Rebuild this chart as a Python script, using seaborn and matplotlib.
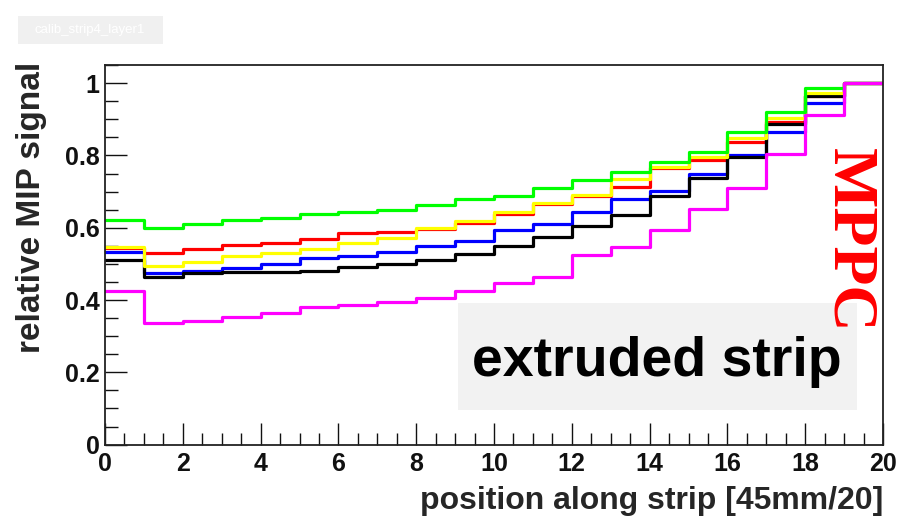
import numpy as np
import pandas as pd
import matplotlib
matplotlib.use("Agg")
import matplotlib.pyplot as plt
from matplotlib.patches import Rectangle
from matplotlib.ticker import MultipleLocator, FixedLocator
import seaborn as sns

# ---- data (relative MIP signal per bin, 20 bins of 45mm/20) ----
bin_edges = list(range(0, 21))
green = [0.621, 0.600, 0.610, 0.621, 0.628, 0.639, 0.644, 0.648, 0.662, 0.679,
         0.687, 0.709, 0.731, 0.755, 0.782, 0.811, 0.864, 0.921, 0.986, 1.0]
red = [0.545, 0.529, 0.540, 0.553, 0.558, 0.568, 0.586, 0.587, 0.597, 0.612,
       0.637, 0.665, 0.688, 0.714, 0.766, 0.787, 0.837, 0.894, 0.966, 1.0]
yellow = [0.547, 0.495, 0.506, 0.521, 0.529, 0.541, 0.558, 0.573, 0.599, 0.619,
          0.644, 0.668, 0.690, 0.736, 0.768, 0.795, 0.848, 0.905, 0.972, 1.0]
blue = [0.534, 0.474, 0.481, 0.488, 0.499, 0.516, 0.523, 0.534, 0.550, 0.564,
        0.593, 0.610, 0.644, 0.679, 0.703, 0.749, 0.802, 0.864, 0.945, 1.0]
black = [0.511, 0.464, 0.474, 0.478, 0.478, 0.481, 0.491, 0.499, 0.510, 0.527,
         0.550, 0.575, 0.604, 0.635, 0.688, 0.738, 0.796, 0.888, 0.965, 1.0]
magenta = [0.426, 0.336, 0.341, 0.352, 0.365, 0.380, 0.387, 0.394, 0.407, 0.426,
           0.447, 0.464, 0.524, 0.547, 0.593, 0.651, 0.711, 0.803, 0.913, 1.0]

x_ticks = [0, 2, 4, 6, 8, 10, 12, 14, 16, 18, 20]
y_ticks = [0, 0.2, 0.4, 0.6, 0.8, 1.0]
y_tick_labels = ["0", "0.2", "0.4", "0.6", "0.8", "1"]

series = [("red", red, "#ff0000"), ("blue", blue, "#0000ff"),
          ("black", black, "#000000"), ("yellow", yellow, "#ffff00"),
          ("green", green, "#00ff00"), ("magenta", magenta, "#ff00ff")]

sns.set_style("ticks")
plt.rcParams["font.family"] = ["Liberation Sans", "DejaVu Sans"]
plt.rcParams["font.weight"] = "bold"

fig = plt.figure(figsize=(9, 5.17), dpi=100)
ax = fig.add_axes([0.1167, 0.140, 0.8644, 0.734])

for name, vals, col in series:
    df = pd.DataFrame({"x": bin_edges, "y": list(vals) + [vals[-1]]})
    sns.lineplot(data=df, x="x", y="y", ax=ax, color=col, lw=2.3,
                 drawstyle="steps-post", estimator=None, sort=False)

ax.set_xlim(0, 20)
ax.set_ylim(0, 1.05)
ax.xaxis.set_major_locator(FixedLocator(x_ticks))
ax.xaxis.set_minor_locator(MultipleLocator(0.5))
ax.yaxis.set_major_locator(FixedLocator(y_ticks))
ax.yaxis.set_minor_locator(MultipleLocator(0.05))
ax.set_xticklabels([str(t) for t in x_ticks])
ax.set_yticklabels(y_tick_labels)
ax.tick_params(which="both", direction="in", colors="#111111", width=1.0,
               top=False, right=False, labelsize=18)
ax.tick_params(which="major", length=16)
ax.tick_params(which="minor", length=9)
ax.tick_params(axis="x", pad=5)
ax.tick_params(axis="y", pad=4)
for lab in ax.get_xticklabels() + ax.get_yticklabels():
    lab.set_fontweight("bold")
for sp in ax.spines.values():
    sp.set_visible(True)
    sp.set_linewidth(1.3)
    sp.set_color("#222222")

ax.set_xlabel("position along strip [45mm/20]", fontsize=23, fontweight="bold",
              loc="right")
ax.set_ylabel("relative MIP signal", fontsize=24, fontweight="bold", loc="top")
ax.xaxis.set_label_coords(1.0, -0.11)
ax.yaxis.set_label_coords(-0.074, 1.01)

# annotation box "extruded strip"
ax.add_patch(Rectangle((0.4537, 0.091), 0.513, 0.282, transform=ax.transAxes,
                       facecolor="#f2f2f2", edgecolor="none", zorder=1))
ax.text(0.7095, 0.217, "extruded strip", transform=ax.transAxes, fontsize=40,
        fontweight="bold", ha="center", va="center", color="black", zorder=2)

# MPPC label
ax.text(0.955, 0.539, "MPPC", transform=ax.transAxes, fontsize=46,
        fontweight="bold", family=["Liberation Serif", "DejaVu Serif"],
        rotation=-90, ha="center", va="center", color="#ff0000", zorder=5)

# small canvas name box at top left
fig.patches.append(Rectangle((18 / 900, 1 - 44 / 517), 145 / 900, 28 / 517,
                             transform=fig.transFigure, facecolor="#f0f0f0",
                             edgecolor="none"))
fig.text(90 / 900, 1 - 30 / 517, "calib_strip4_layer1", fontsize=9.5,
         color="white", ha="center", va="center", fontweight="normal",
         family=["Liberation Sans Narrow", "Liberation Sans", "DejaVu Sans"])

fig.savefig("out.png", dpi=100)
